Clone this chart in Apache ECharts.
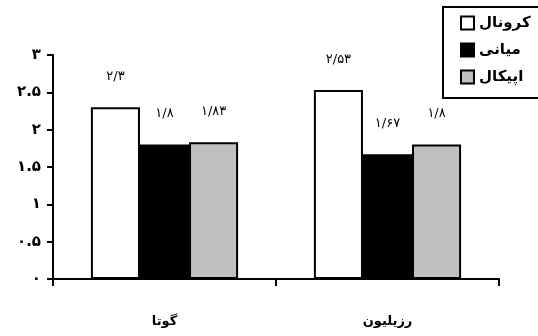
<!DOCTYPE html>
<html><head><meta charset="utf-8">
<script src="https://cdn.jsdelivr.net/npm/echarts@6/dist/echarts.min.js"></script>
<style>html,body{margin:0;padding:0;background:#fff}#c{width:538px;height:336px}</style>
</head><body><div id="c"></div>
<script>
var categories = ['گوتا', 'رزیلیون'];
var seriesNames = ['کرونال', 'میانی', 'اپیکال'];
var coronal = [2.3, 2.53];
var middle = [1.8, 1.67];
var apical = [1.83, 1.8];
var coronalLabels = ['۲/۳', '۲/۵۳'];
var middleLabels = ['۱/۸', '۱/۶۷'];
var apicalLabels = ['۱/۸۳', '۱/۸'];
var yTickLabels = ['۰', '۰.۵', '۱', '۱.۵', '۲', '۲.۵', '۳'];
var colors = ['#ffffff', '#000000', '#c0c0c0'];

var font = 'DejaVu Sans';
function mk(name, data, labels, color) {
  return {
    name: name, type: 'bar', data: data,
    barGap: '0%', barCategoryGap: '34%',
    itemStyle: {color: color, borderColor: '#000', borderWidth: 2},
    label: {show: true, position: 'top', distance: 24, color: '#000',
      fontFamily: font, fontSize: 13,
      formatter: function (p) { return labels[p.dataIndex]; }}
  };
}
var chart = echarts.init(document.getElementById('c'));
chart.setOption({
  animation: false,
  backgroundColor: '#fff',
  grid: {left: 53, right: 39, top: 55, bottom: 57, containLabel: false},
  legend: {
    left: 443, top: 7, orient: 'vertical', align: 'left',
    itemWidth: 13, itemHeight: 13, itemGap: 7,
    borderColor: '#000', borderWidth: 2, padding: [6, 14, 11, 17],
    backgroundColor: '#fff',
    textStyle: {fontFamily: font, fontWeight: 'bold', fontSize: 15, lineHeight: 20, color: '#000'},
    data: seriesNames.map(function (n, i) {
      return {name: n, icon: 'rect', itemStyle: {color: colors[i], borderColor: '#000', borderWidth: 2}};
    })
  },
  xAxis: {
    type: 'category', data: categories,
    axisLine: {lineStyle: {color: '#000', width: 2}},
    axisTick: {show: true, length: 7, lineStyle: {color: '#000', width: 2}},
    axisLabel: {margin: 36, color: '#000', fontFamily: font, fontWeight: 'bold', fontSize: 13}
  },
  yAxis: {
    type: 'value', min: 0, max: 3, interval: 0.5,
    axisLine: {show: true, lineStyle: {color: '#000', width: 2}},
    axisTick: {show: true, length: 6, lineStyle: {color: '#000', width: 2}},
    splitLine: {show: false},
    axisLabel: {margin: 12, color: '#000', fontFamily: font, fontWeight: 'bold', fontSize: 15,
      formatter: function (v) { return yTickLabels[Math.round(v / 0.5)]; }}
  },
  series: [
    mk(seriesNames[0], coronal, coronalLabels, colors[0]),
    mk(seriesNames[1], middle, middleLabels, colors[1]),
    mk(seriesNames[2], apical, apicalLabels, colors[2])
  ]
});
</script></body></html>
